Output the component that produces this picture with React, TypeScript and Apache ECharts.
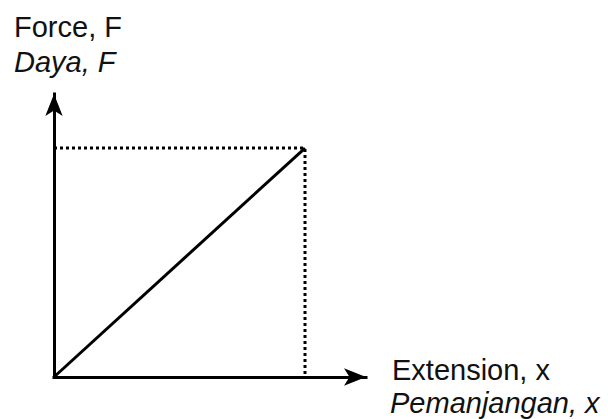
import React, { useEffect, useRef } from "react";
import * as echarts from "echarts";

// Data: extension (x) and force (F) of the straight-line graph
const extensionValues = [0, 10];
const forceValues = [0, 10];
const xAxisMax = 12.43;
const yAxisMax = 12.36;

const yLabelLines = ["Force, F", "Daya, F"];
const xLabelLines = ["Extension, x", "Pemanjangan, x"];

export default function App() {
  const ref = useRef<HTMLDivElement>(null);
  useEffect(() => {
    if (!ref.current) return;
    const chart = echarts.init(ref.current, undefined, { renderer: "svg" });
    const linePts = extensionValues.map((x, i) => [x, forceValues[i]]);
    const xe = extensionValues[extensionValues.length - 1];
    const fe = forceValues[forceValues.length - 1];
    const dottedPts = [
      [0, fe],
      [xe, fe],
      [xe, 0],
    ];
    const font = "'Liberation Sans', Arial, sans-serif";
    const axisCommon = {
      type: "value" as const,
      min: 0,
      splitLine: { show: false },
      axisTick: { show: false },
      axisLabel: { show: false },
      axisLine: {
        show: true,
        symbol: ["none", "arrow"],
        symbolSize: [13, 22],
        lineStyle: { color: "#000", width: 3, cap: "square" },
      },
    };
    chart.setOption({
      animation: false,
      backgroundColor: "#fff",
      grid: { left: 54, right: 242, top: 94, bottom: 42 },
      xAxis: { ...axisCommon, max: xAxisMax },
      yAxis: { ...axisCommon, max: yAxisMax },
      series: [
        {
          type: "line",
          data: dottedPts,
          symbol: "none",
          lineStyle: { color: "#000", width: 3, type: [3, 3] },
          z: 1,
        },
        {
          type: "line",
          data: linePts,
          symbol: "none",
          lineStyle: { color: "#000", width: 3 },
          z: 2,
        },
      ],
      graphic: [
        {
          type: "text",
          x: 14,
          y: 12,
          style: { text: yLabelLines[0], fontSize: 29, fontFamily: font, fill: "#111", verticalAlign: "top" },
        },
        {
          type: "text",
          x: 14,
          y: 47,
          style: { text: yLabelLines[1], fontSize: 29, fontStyle: "italic", fontFamily: font, fill: "#111", verticalAlign: "top" },
        },
        {
          type: "text",
          x: 392,
          y: 355,
          style: { text: xLabelLines[0], fontSize: 29, fontFamily: font, fill: "#111", verticalAlign: "top" },
        },
        {
          type: "text",
          x: 390,
          y: 388,
          style: { text: xLabelLines[1], fontSize: 29, fontStyle: "italic", fontFamily: font, fill: "#111", verticalAlign: "top" },
        },
      ],
    });
    return () => chart.dispose();
  }, []);
  return (
    <div
      ref={ref}
      style={{ position: "fixed", left: 0, top: 0, width: 608, height: 419 }}
    />
  );
}
